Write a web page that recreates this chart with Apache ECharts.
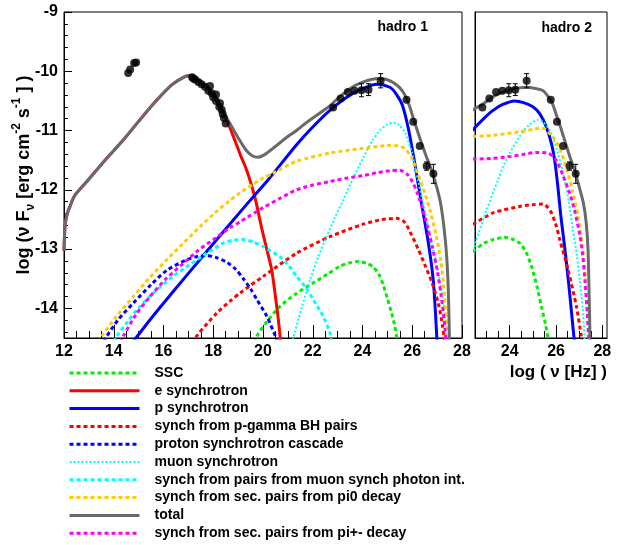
<!DOCTYPE html>
<html>
<head>
<meta charset="utf-8">
<script src="https://cdn.jsdelivr.net/npm/echarts@6/dist/echarts.min.js"></script>
<style>
  html, body { margin: 0; padding: 0; background: #fff; }
  #chart { width: 621px; height: 545px; }
</style>
</head>
<body>
<div id="chart"></div>
<script>
// ---------- Spectral energy distribution: [log nu (Hz), log nuFnu (erg cm^-2 s^-1)] ----------

// hadro 1 model components
const h1Ssc = [[19.6,-14.7],[19.75,-14.47],[20.2,-14.2],[20.68,-13.97],[21.3,-13.76],[22.02,-13.57],[22.6,-13.42],[23.09,-13.29],[23.5,-13.23],[23.83,-13.21],[24.15,-13.24],[24.43,-13.3],[24.65,-13.42],[24.83,-13.6],[25.0,-13.83],[25.17,-14.08],[25.3,-14.3],[25.42,-14.6]];
const h1ESyn = [[12,-13.03],[12.04,-12.62],[12.12,-12.42],[12.24,-12.28],[12.44,-12.09],[12.98,-11.83],[13.65,-11.5],[14.32,-11.19],[14.99,-10.85],[15.66,-10.52],[16.33,-10.23],[16.86,-10.09],[17.1,-10.07],[17.3,-10.12],[17.6,-10.22],[17.9,-10.36],[18.2,-10.54],[18.45,-10.74],[18.67,-10.95],[18.9,-11.2],[19.1,-11.42],[19.3,-11.62],[19.5,-11.87],[19.7,-12.17],[19.95,-12.65],[20.15,-13.0],[20.35,-13.35],[20.5,-13.8],[20.62,-14.2],[20.72,-14.6]];
const h1PSyn = [[14.8,-14.55],[15.5,-14.17],[16.5,-13.66],[17.5,-13.16],[18.5,-12.66],[19.5,-12.17],[20.21,-11.83],[21.35,-11.24],[22.0,-10.94],[22.69,-10.66],[23.4,-10.43],[24.03,-10.29],[24.57,-10.22],[25.1,-10.27],[25.35,-10.38],[25.6,-10.57],[25.85,-10.98],[26.1,-11.55],[26.38,-12.25],[26.65,-12.9],[26.85,-13.55],[27.0,-14.6]];
const h1BH = [[17.2,-14.6],[17.33,-14.47],[18.14,-14.08],[18.67,-13.88],[19.08,-13.74],[20.01,-13.46],[21.35,-13.07],[22.69,-12.79],[24.03,-12.58],[24.8,-12.5],[25.37,-12.48],[25.7,-12.55],[25.97,-12.76],[26.24,-13.0],[26.51,-13.27],[26.78,-13.55],[27.05,-13.92],[27.22,-14.3],[27.3,-14.6]];
const h1Cascade = [[13.6,-14.56],[13.72,-14.47],[14.2,-14.18],[14.79,-13.91],[15.5,-13.6],[16.13,-13.36],[16.93,-13.18],[17.4,-13.12],[17.74,-13.11],[18.1,-13.14],[18.54,-13.22],[18.9,-13.34],[19.21,-13.5],[19.5,-13.67],[19.75,-13.85],[20.15,-14.13],[20.5,-14.47],[20.6,-14.58]];
const h1Muon = [[21.15,-14.6],[21.55,-14.0],[21.89,-13.52],[22.22,-13.13],[22.56,-12.79],[22.9,-12.46],[23.23,-12.17],[23.63,-11.8],[24.04,-11.45],[24.4,-11.17],[24.71,-10.99],[25.0,-10.9],[25.24,-10.87],[25.45,-10.9],[25.7,-11.03],[25.97,-11.35],[26.24,-11.85],[26.5,-12.35],[26.75,-12.85],[27.0,-13.3],[27.2,-13.75],[27.32,-14.2],[27.37,-14.6]];
const h1MuPairs = [[14.0,-14.57],[14.12,-14.47],[14.6,-14.2],[15.05,-13.97],[15.7,-13.7],[16.39,-13.46],[17.1,-13.25],[17.74,-13.07],[18.41,-12.9],[18.8,-12.85],[19.21,-12.84],[19.6,-12.88],[20.02,-12.96],[20.68,-13.13],[21.0,-13.26],[21.35,-13.46],[21.7,-13.64],[22.02,-13.85],[22.4,-14.12],[22.69,-14.41],[22.75,-14.6]];
const h1Pi0 = [[13.4,-14.58],[13.52,-14.47],[14.1,-14.14],[14.79,-13.8],[15.45,-13.48],[16.13,-13.18],[16.8,-12.9],[17.47,-12.62],[18.2,-12.34],[18.67,-12.18],[19.08,-12.05],[20.0,-11.8],[20.4,-11.72],[21.35,-11.52],[22.69,-11.38],[24.03,-11.3],[24.6,-11.27],[25.1,-11.25],[25.45,-11.26],[25.7,-11.3],[25.97,-11.46],[26.2,-11.7],[26.44,-11.98],[26.7,-12.32],[26.95,-12.75],[27.15,-13.2],[27.3,-13.8],[27.38,-14.3],[27.42,-14.6]];
const h1Total = [[12,-13.03],[12.04,-12.62],[12.12,-12.42],[12.24,-12.28],[12.44,-12.09],[12.98,-11.83],[13.65,-11.5],[14.32,-11.19],[14.99,-10.85],[15.66,-10.52],[16.33,-10.23],[16.86,-10.09],[17.1,-10.07],[17.3,-10.12],[17.6,-10.22],[17.9,-10.36],[18.2,-10.54],[18.45,-10.72],[18.67,-10.88],[19.0,-11.12],[19.3,-11.32],[19.55,-11.42],[19.8,-11.45],[20.05,-11.41],[20.4,-11.3],[21.0,-11.1],[21.35,-11.0],[21.7,-10.88],[22.3,-10.7],[22.7,-10.58],[23.0,-10.46],[23.37,-10.33],[23.7,-10.24],[24.04,-10.18],[24.35,-10.14],[24.64,-10.12],[24.9,-10.13],[25.15,-10.17],[25.4,-10.24],[25.6,-10.33],[25.75,-10.44],[25.9,-10.6],[26.05,-10.8],[26.3,-11.12],[26.55,-11.42],[26.8,-11.7],[27.0,-11.98],[27.15,-12.25],[27.28,-12.65],[27.38,-13.1],[27.45,-13.7],[27.5,-14.6]];
const h1PiPm = [[14.25,-14.58],[14.38,-14.47],[14.9,-14.1],[15.46,-13.8],[16.1,-13.5],[16.8,-13.24],[17.4,-13.02],[18.0,-12.84],[18.67,-12.64],[19.08,-12.54],[20.01,-12.3],[20.7,-12.14],[21.35,-12.0],[22.0,-11.92],[22.69,-11.86],[23.4,-11.8],[24.03,-11.76],[24.6,-11.71],[25.1,-11.68],[25.5,-11.67],[25.8,-11.74],[26.0,-11.86],[26.2,-12.05],[26.4,-12.3],[26.6,-12.6],[26.8,-12.95],[27.0,-13.35],[27.15,-13.75],[27.28,-14.2],[27.36,-14.6]];

// hadro 2 model components (high-energy hump only)
const h2Ssc = [[22.4,-13.04],[22.5,-13.01],[22.9,-12.9],[23.28,-12.84],[23.78,-12.8],[24.1,-12.83],[24.43,-12.9],[24.7,-13.05],[24.94,-13.29],[25.17,-13.62],[25.37,-13.97],[25.55,-14.28],[25.7,-14.6]];
const h2PSyn = [[22.4,-11.0],[22.5,-10.95],[22.9,-10.79],[23.28,-10.66],[23.7,-10.56],[24.22,-10.5],[24.6,-10.53],[25.0,-10.6],[25.3,-10.72],[25.58,-10.94],[25.8,-11.22],[25.94,-11.5],[26.08,-11.95],[26.2,-12.42],[26.37,-12.96],[26.55,-13.6],[26.8,-14.6]];
const h2BH = [[22.4,-12.58],[22.5,-12.56],[23.28,-12.39],[24.43,-12.28],[25.0,-12.25],[25.44,-12.24],[25.65,-12.3],[25.8,-12.39],[26.0,-12.6],[26.16,-12.84],[26.52,-13.35],[26.88,-13.97],[27.09,-14.47],[27.13,-14.6]];
const h2Muon = [[22.42,-13.1],[22.5,-12.92],[23.0,-12.34],[23.5,-11.83],[23.71,-11.61],[24.0,-11.38],[24.43,-11.1],[24.8,-10.92],[25.22,-10.82],[25.45,-10.86],[25.72,-10.99],[25.9,-11.15],[26.08,-11.38],[26.37,-11.83],[26.55,-12.2],[26.73,-12.68],[26.9,-13.1],[27.02,-13.52],[27.15,-14.0],[27.25,-14.6]];
const h2Pi0 = [[22.4,-11.1],[22.5,-11.1],[23.28,-11.08],[24.43,-11.02],[25.0,-10.98],[25.29,-10.96],[25.5,-10.97],[25.72,-11.05],[25.95,-11.15],[26.16,-11.3],[26.44,-11.62],[26.7,-12.0],[26.95,-12.45],[27.12,-12.9],[27.25,-13.4],[27.35,-14.0],[27.43,-14.6]];
const h2Total = [[22.4,-10.66],[22.5,-10.63],[22.85,-10.55],[23.28,-10.43],[23.65,-10.36],[24.0,-10.31],[24.4,-10.28],[24.72,-10.27],[25.1,-10.29],[25.44,-10.33],[25.7,-10.45],[25.87,-10.57],[26.0,-10.72],[26.16,-10.9],[26.44,-11.25],[26.62,-11.47],[26.8,-11.67],[27.02,-11.98],[27.18,-12.22],[27.3,-12.55],[27.38,-13.0],[27.43,-13.8],[27.47,-14.6]];
const h2PiPm = [[22.4,-11.48],[22.5,-11.48],[23.2,-11.47],[24.0,-11.44],[24.6,-11.4],[25.15,-11.37],[25.65,-11.38],[25.85,-11.43],[26.01,-11.5],[26.3,-11.76],[26.59,-12.06],[26.8,-12.35],[27.02,-12.75],[27.15,-13.1],[27.25,-13.55],[27.35,-14.1],[27.42,-14.6]];

// observations: [log nu, log nuFnu, error]
const opticalPts = [[14.58,-10.03,0],[14.66,-9.97,0],[14.82,-9.86,0],[14.9,-9.85,0]];
const xrayPts = [[17.15,-10.1,0],[17.2,-10.12,0],[17.27,-10.14,0],[17.4,-10.18,0],[17.53,-10.22,0],[17.67,-10.26,0],[17.87,-10.25,0],[17.8,-10.33,0],[17.94,-10.37,0],[18.11,-10.39,0],[18.0,-10.44,0],[18.11,-10.5,0],[18.27,-10.54,0],[18.24,-10.6,0],[18.34,-10.65,0],[18.38,-10.72,0],[18.43,-10.79,0],[18.5,-10.88,0]];
const gevPts = [[22.82,-10.61,0],[23.12,-10.46,0],[23.41,-10.35,0],[23.68,-10.33,0],[23.96,-10.32,0.11],[24.24,-10.31,0.1],[24.73,-10.16,0.12]];
const tevPts = [[25.77,-10.48,0],[26.04,-10.85,0],[26.3,-11.26,0],[26.58,-11.6,0.07],[26.85,-11.73,0.16]];

// axis ticks
const yMajorTicks = [-14, -13, -12, -11, -10, -9];
const yMinorTicks = [];
for (let k = -72; k <= -45; k++) { if (k % 5 !== 0) yMinorTicks.push(k / 5); }
const x2MajorTicks = [24, 26, 28];
const x2MinorTicks = [23, 23.5, 24.5, 25, 25.5, 26.5, 27, 27.5];

const panelNames = ['hadro 1', 'hadro 2'];
const legendNames = ['SSC', 'e synchrotron', 'p synchrotron', 'synch from p-gamma BH pairs',
  'proton synchrotron cascade', 'muon synchrotron', 'synch from pairs from muon synch photon int.',
  'synch from sec. pairs from pi0 decay', 'total', 'synch from sec. pairs from pi+- decay'];

// ---------- styles ----------
const FONT = '"Liberation Sans", Arial, Helvetica, sans-serif';
const DASH = [4, 3];
const styleOf = {
  'SSC': { color: '#00f000', width: 3, type: DASH },
  'e synchrotron': { color: '#ff0000', width: 3, type: 'solid' },
  'p synchrotron': { color: '#0000ff', width: 3, type: 'solid' },
  'synch from p-gamma BH pairs': { color: '#ff0000', width: 3, type: DASH },
  'proton synchrotron cascade': { color: '#0000ff', width: 3, type: DASH },
  'muon synchrotron': { color: '#00ffff', width: 2, type: [2, 2] },
  'synch from pairs from muon synch photon int.': { color: '#00ffff', width: 3, type: DASH },
  'synch from sec. pairs from pi0 decay': { color: '#ffcc00', width: 3, type: DASH },
  'total': { color: '#6a6a6a', width: 3, type: 'solid', z: 3 },
  'synch from sec. pairs from pi+- decay': { color: '#ff00ff', width: 3, type: DASH }
};

function curve(name, data, idx) {
  const s = styleOf[name];
  return {
    type: 'line', name: name, data: data,
    xAxisIndex: idx, yAxisIndex: idx,
    symbol: 'none', showSymbol: false, silent: true,
    smooth: 0.25, clip: true,
    z: s.z || 2,
    lineStyle: { color: s.color, width: s.width, type: s.type },
    itemStyle: { color: s.color }
  };
}

function points(data, idx) {
  return {
    type: 'scatter', data: data, xAxisIndex: idx, yAxisIndex: idx,
    symbol: 'circle', symbolSize: 8, silent: true, z: 6,
    itemStyle: { color: '#000' }
  };
}

function errorBars(data, idx) {
  return {
    type: 'custom', coordinateSystem: 'cartesian2d', data: data,
    xAxisIndex: idx, yAxisIndex: idx, silent: true, z: 5,
    renderItem: function (params, api) {
      const x = api.value(0), y = api.value(1), e = api.value(2);
      if (!e) return { type: 'group', children: [] };
      const hi = api.coord([x, y + e]);
      const lo = api.coord([x, y - e]);
      const st = { stroke: '#000', lineWidth: 1 };
      return {
        type: 'group', children: [
          { type: 'line', shape: { x1: hi[0], y1: hi[1], x2: lo[0], y2: lo[1] }, style: st },
          { type: 'line', shape: { x1: hi[0] - 2.5, y1: hi[1], x2: hi[0] + 2.5, y2: hi[1] }, style: st },
          { type: 'line', shape: { x1: lo[0] - 2.5, y1: lo[1], x2: lo[0] + 2.5, y2: lo[1] }, style: st }
        ]
      };
    }
  };
}

const series = [
  curve('SSC', h1Ssc, 0),
  curve('e synchrotron', h1ESyn, 0),
  curve('p synchrotron', h1PSyn, 0),
  curve('synch from p-gamma BH pairs', h1BH, 0),
  curve('proton synchrotron cascade', h1Cascade, 0),
  curve('muon synchrotron', h1Muon, 0),
  curve('synch from pairs from muon synch photon int.', h1MuPairs, 0),
  curve('synch from sec. pairs from pi0 decay', h1Pi0, 0),
  curve('total', h1Total, 0),
  curve('synch from sec. pairs from pi+- decay', h1PiPm, 0),

  curve('SSC', h2Ssc, 1),
  curve('p synchrotron', h2PSyn, 1),
  curve('synch from p-gamma BH pairs', h2BH, 1),
  curve('muon synchrotron', h2Muon, 1),
  curve('synch from sec. pairs from pi0 decay', h2Pi0, 1),
  curve('total', h2Total, 1),
  curve('synch from sec. pairs from pi+- decay', h2PiPm, 1),

  points(opticalPts, 0), points(xrayPts, 0), points(gevPts, 0), points(tevPts, 0),
  errorBars(gevPts, 0), errorBars(tevPts, 0),
  points(gevPts, 1), points(tevPts, 1),
  errorBars(gevPts, 1), errorBars(tevPts, 1)
];

const axisLine = { show: true, lineStyle: { color: '#000', width: 1 } };
const tickLabel = { color: '#000', fontSize: 16, fontWeight: 'bold', fontFamily: FONT };

const option = {
  animation: false,
  backgroundColor: '#fff',
  grid: [
    { left: 64, top: 12, width: 398, height: 326, show: true, borderColor: '#000', borderWidth: 1, backgroundColor: 'transparent' },
    { left: 475, top: 12, width: 132, height: 326, show: true, borderColor: '#000', borderWidth: 1, backgroundColor: 'transparent' }
  ],
  xAxis: [
    { type: 'value', gridIndex: 0, min: 12, max: 28, interval: 2, position: 'bottom',
      axisLine: axisLine, splitLine: { show: false },
      axisTick: { show: true, inside: true, length: 13, lineStyle: { color: '#000' } },
      minorTick: { show: true, splitNumber: 4, length: 7, lineStyle: { color: '#000' } },
      axisLabel: Object.assign({ margin: 6, showMinLabel: true, showMaxLabel: true }, tickLabel) },
    { type: 'value', gridIndex: 1, min: 22.5, max: 28.2, position: 'bottom',
      axisLine: axisLine, splitLine: { show: false },
      axisTick: { show: true, inside: true, length: 13, customValues: x2MajorTicks, lineStyle: { color: '#000' } },
      axisLabel: Object.assign({ margin: 6, customValues: x2MajorTicks }, tickLabel) },
    { type: 'value', gridIndex: 1, min: 22.5, max: 28.2, position: 'bottom', offset: 0,
      axisLine: { show: false }, splitLine: { show: false }, axisLabel: { show: false },
      axisTick: { show: true, inside: true, length: 7, customValues: x2MinorTicks, lineStyle: { color: '#000' } } }
  ],
  yAxis: [
    { type: 'value', gridIndex: 0, min: -14.5, max: -9, position: 'left',
      axisLine: axisLine, splitLine: { show: false },
      axisTick: { show: true, inside: true, length: 8, customValues: yMajorTicks, lineStyle: { color: '#000' } },
      axisLabel: Object.assign({ margin: 6, customValues: yMajorTicks }, tickLabel) },
    { type: 'value', gridIndex: 1, min: -14.5, max: -9, position: 'left',
      axisLine: axisLine, splitLine: { show: false }, axisTick: { show: false }, axisLabel: { show: false } },
    { type: 'value', gridIndex: 0, min: -14.5, max: -9, position: 'left', offset: 0,
      axisLine: { show: false }, splitLine: { show: false }, axisLabel: { show: false },
      axisTick: { show: true, inside: true, length: 4, customValues: yMinorTicks, lineStyle: { color: '#000' } } }
  ],
  legend: {
    orient: 'vertical', left: 68, top: 366, padding: 0,
    itemWidth: 70, itemHeight: 14, itemGap: 3.8,
    selectedMode: false,
    itemStyle: { opacity: 0 },
    lineStyle: { width: 3 },
    textStyle: { color: '#000', fontSize: 14, fontWeight: 'bold', fontFamily: FONT, lineHeight: 14, padding: [0, 0, 0, 10] },
    data: legendNames.map(n => n === 'muon synchrotron' ? { name: n, lineStyle: { width: 2 } } : { name: n })
  },
  graphic: [
    { type: 'text', right: 193, top: 20, style: { text: panelNames[0], font: 'bold 14px ' + FONT, fill: '#000' } },
    { type: 'text', right: 29, top: 21, style: { text: panelNames[1], font: 'bold 14px ' + FONT, fill: '#000' } },
    { type: 'text', right: 14, top: 364, style: { text: 'log ( ν [Hz] )', font: 'bold 17px ' + FONT, fill: '#000' } },
    { type: 'text', x: 24, y: 175, rotation: Math.PI / 2,
      style: {
        text: 'log (ν F{sub|ν} [erg cm{sup|-2} s{sup|-1} ] )',
        font: 'bold 18px ' + FONT, fill: '#000', align: 'center', verticalAlign: 'middle', lineHeight: 26,
        rich: {
          sub: { fontSize: 12, fontWeight: 'bold', fontFamily: FONT, verticalAlign: 'bottom', lineHeight: 26 },
          sup: { fontSize: 12, fontWeight: 'bold', fontFamily: FONT, verticalAlign: 'top', lineHeight: 26 }
        }
      } }
  ],
  series: series
};

const chart = echarts.init(document.getElementById('chart'), null, { renderer: 'canvas' });
chart.setOption(option);
</script>
</body>
</html>
